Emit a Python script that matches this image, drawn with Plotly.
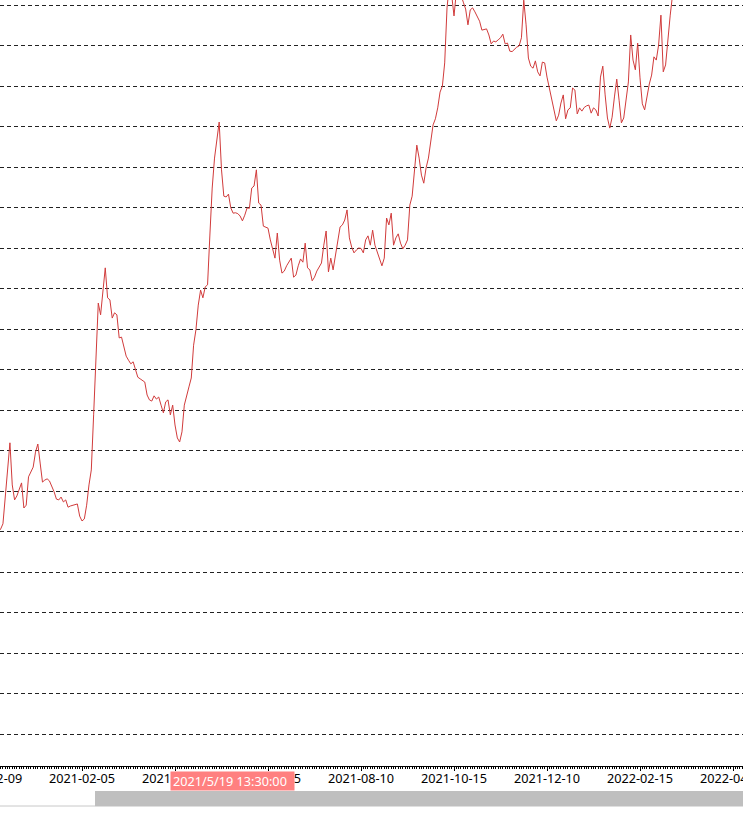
import plotly.graph_objects as go

# bar index of the first price (index 0 = 2020-12-09, one bar per trading day)
first_bar = 4
close = [
    14.99, 15.06, 15.19, 15.90, 16.64, 17.19, 16.15, 15.78, 15.88, 16.05,
    16.20, 15.58, 15.65, 16.35, 16.47, 16.59, 16.96, 17.16, 16.69, 16.22,
    16.27, 16.30, 16.25, 16.12, 15.98, 15.80, 15.78, 15.85, 15.73, 15.78,
    15.60, 15.63, 15.65, 15.66, 15.68, 15.38, 15.26, 15.31, 15.65, 16.15,
    16.52, 17.88, 19.11, 20.64, 20.35, 20.96, 21.51, 20.77, 20.72, 20.27,
    20.40, 20.35, 19.78, 19.80, 19.56, 19.33, 19.23, 19.14, 19.19, 18.99,
    18.81, 18.77, 18.74, 18.69, 18.37, 18.25, 18.22, 18.35, 18.27, 18.32,
    18.12, 17.93, 18.20, 18.25, 17.88, 18.12, 17.63, 17.31, 17.21, 17.46,
    18.12, 18.32, 18.57, 18.79, 19.60, 19.98, 20.59, 20.96, 20.77, 21.04,
    21.09, 22.32, 23.48, 24.22, 24.67, 25.11, 23.93, 23.28, 23.26, 23.33,
    22.99, 22.86, 22.87, 22.85, 22.79, 22.67, 22.81, 22.99, 22.98, 23.48,
    23.53, 23.93, 23.11, 23.06, 22.54, 22.52, 22.49, 22.20, 21.98, 21.75,
    22.37, 21.70, 21.38, 21.43, 21.56, 21.65, 21.75, 21.28, 21.33, 21.56,
    21.73, 21.65, 22.12, 21.51, 21.46, 21.19, 21.28, 21.43, 21.53, 21.63,
    22.07, 22.42, 21.41, 21.75, 21.46, 21.83, 22.12, 22.52, 22.57, 22.69,
    22.94, 22.25, 22.02, 21.88, 21.95, 22.00, 21.99, 21.88, 22.20, 22.30,
    22.07, 22.44, 22.07, 21.90, 21.68, 21.56, 21.75, 22.74, 22.57, 22.86,
    22.07, 22.25, 22.35, 22.12, 21.98, 22.07, 22.20, 23.06, 23.28, 23.93,
    24.54, 24.22, 23.80, 23.60, 23.98, 24.22, 24.59, 25.04, 25.19, 25.46,
    25.85, 26.00, 26.57, 27.93, 28.49, 28.25, 27.73, 28.32, 28.42, 28.27,
    28.07, 27.90, 27.51, 27.88, 27.93, 27.83, 27.73, 27.60, 27.38, 27.39,
    27.41, 27.26, 27.04, 27.11, 27.09, 27.14, 27.19, 27.28, 27.04, 27.06,
    26.86, 26.85, 26.91, 26.96, 26.99, 27.19, 28.12, 27.51, 26.69, 26.49,
    26.44, 26.62, 26.35, 26.25, 26.59, 26.57, 26.22, 25.95, 25.65, 25.33,
    25.14, 25.28, 25.58, 25.78, 25.19, 25.41, 25.46, 25.95, 25.90, 25.31,
    25.46, 25.38, 25.47, 25.51, 25.53, 25.33, 25.46, 25.41, 25.26, 26.22,
    26.49, 25.78, 25.21, 24.96, 25.23, 25.73, 26.17, 25.65, 25.09, 25.21,
    25.65, 26.10, 27.26, 26.64, 26.40, 27.06, 26.20, 25.56, 25.41, 25.75,
    26.05, 26.27, 26.72, 26.64, 27.01, 27.75, 26.35, 26.52, 27.19, 27.75,
    28.25, 28.74,
]
bars = list(range(first_bar, first_bar + len(close)))

tick_bars = [40, 80, 120, 160, 200, 240, 280, 320]
tick_text = ["2021-02-05", "2021-04-12", "2021-06-15", "2021-08-10",
             "2021-10-15", "2021-12-10", "2022-02-15", "2022-04-14"]
first_tick_text = "2020-12-09"
cursor_text = "2021/5/19 13:30:00"

FONT = "Noto Sans"
fig = go.Figure()
fig.add_trace(go.Scatter(x=bars, y=close, mode="lines",
                         line=dict(color="#d13b3b", width=1),
                         hoverinfo="skip", showlegend=False))

fig.update_layout(
    width=743, height=833,
    margin=dict(l=0, r=0, t=0, b=67),
    plot_bgcolor="white", paper_bgcolor="white",
    showlegend=False,
    xaxis=dict(range=[4.73, 324.3], showgrid=False, zeroline=False,
               automargin=False,
               showline=True, linecolor="#000000", linewidth=1,
               tickmode="array", tickvals=tick_bars, ticktext=tick_text,
               ticks="outside", ticklen=4, tickwidth=1, tickcolor="#000000",
               ticklabeloverflow="allow", ticklabelstandoff=-3,
               minor=dict(dtick=1, tick0=0, ticks="outside", ticklen=2,
                          tickwidth=1, tickcolor="#000000", showgrid=False),
               tickfont=dict(family=FONT, size=12.7, color="#000000")),
    yaxis=dict(range=[9.21, 28.1235], showticklabels=False, zeroline=False,
               automargin=False,
               showline=False, ticks="", tick0=10, dtick=1,
               showgrid=True, gridcolor="#222222", gridwidth=1,
               griddash="4px,3px"),
)

# partially visible first date label, left of the plotted range
fig.add_annotation(x=-11 / 743, y=-0.0157, xref="paper", yref="paper",
                   text=first_tick_text, showarrow=False, xanchor="center",
                   yanchor="middle",
                   font=dict(family=FONT, size=12.7, color="#000000"))

# crosshair time label
fig.add_annotation(x=170 / 743, y=-(771 - 766) / 766, xref="paper", yref="paper",
                   text=cursor_text, showarrow=False, xanchor="left",
                   yanchor="top", align="left", width=119, height=14,
                   borderpad=2, bgcolor="#ff8080",
                   font=dict(family=FONT, size=12.7, color="#ffffff"))

# horizontal scrollbar
fig.add_shape(type="rect", xref="paper", yref="paper",
              x0=95 / 743, x1=1, y0=-(806.5 - 766) / 766, y1=-(791 - 766) / 766,
              fillcolor="#bfbfbf", line=dict(width=0))
fig.add_shape(type="line", xref="paper", yref="paper",
              x0=0, x1=95 / 743, y0=-(806 - 766) / 766, y1=-(806 - 766) / 766,
              line=dict(color="#c8c8c8", width=1))

fig.write_html("out.html", config={"responsive": False, "displayModeBar": False},
               post_script="document.body.style.margin='0';"
                           "document.body.style.overflow='hidden';")
